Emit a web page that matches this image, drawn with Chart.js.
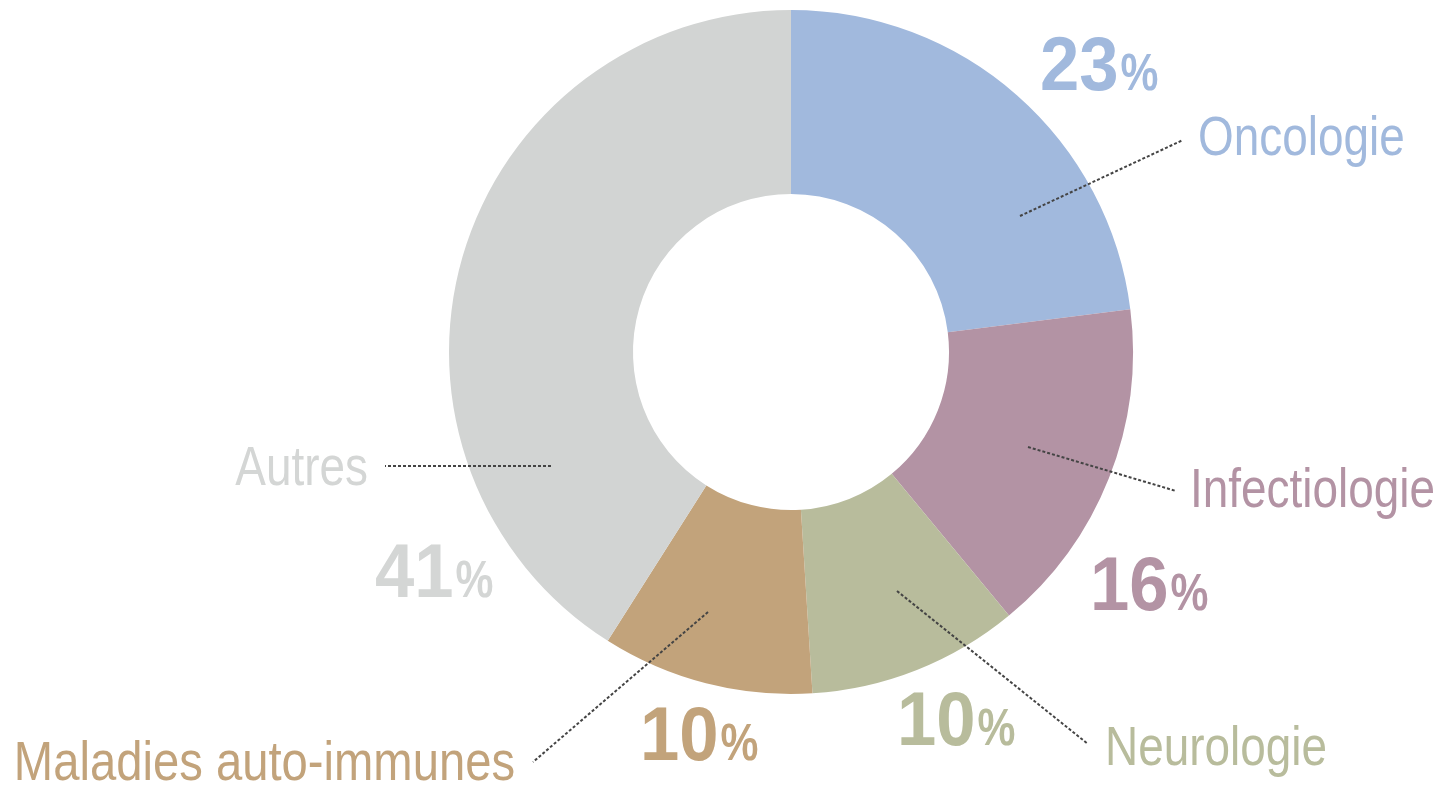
<!DOCTYPE html>
<html><head><meta charset="utf-8">
<script src="https://cdn.jsdelivr.net/npm/chart.js@4/dist/chart.umd.min.js"></script>
<style>html,body{margin:0;padding:0;background:#fff;}canvas{display:block;}</style>
</head><body>
<canvas id="c" width="1445" height="785"></canvas>
<script>
const categories = ["Oncologie", "Infectiologie", "Neurologie", "Maladies auto-immunes", "Autres"];
const values = [23, 16, 10, 10, 41];
const percentLabels = ["23", "16", "10", "10", "41"];
const colors = ["#A1B9DD", "#B393A4", "#B8BC9C", "#C2A37B", "#D2D4D3"];
const textColors = ["#A1B9DD", "#B393A4", "#B8BC9C", "#C2A37B", "#D4D6D5"];

// layout (offsets relative to doughnut centre), style only
const layout = [
  {line:[229,-136,392,-212], name:[407,155-352,'left'], pct:[249,90-352]},
  {line:[237,95,385,139],   name:[399,507-352,'left'], pct:[299,610-352]},
  {line:[106,239,297,392],  name:[314,765-352,'left'], pct:[106,745-352]},
  {line:[-83,260,-258,410], name:[-276,780-352,'right'], pct:[-151,760-352]},
  {line:[-240,114,-406,114],name:[-423,485-352,'right'], pct:[-416,597-352]}
];
const FONT = '"Liberation Sans", Arial, sans-serif';
const NAME_SX = 0.82, PCT_SX = 0.93;

function drawScaled(ctx, text, x, y, sx, align) {
  ctx.save();
  ctx.translate(x, y);
  ctx.scale(sx, 1);
  ctx.textAlign = align;
  ctx.fillText(text, 0, 0);
  ctx.restore();
}

const labelPlugin = {
  id: 'labels',
  afterDraw(chart) {
    const ctx = chart.ctx;
    const arc = chart.getDatasetMeta(0).data[0];
    const cx = arc.x, cy = arc.y;
    ctx.save();
    ctx.textBaseline = 'alphabetic';
    layout.forEach((l, i) => {
      // dotted leader line
      ctx.beginPath();
      ctx.setLineDash([3, 2]);
      ctx.lineWidth = 2;
      ctx.strokeStyle = '#444444';
      ctx.moveTo(cx + l.line[0], cy + l.line[1]);
      ctx.lineTo(cx + l.line[2], cy + l.line[3]);
      ctx.stroke();
      ctx.setLineDash([]);
      // name
      ctx.fillStyle = textColors[i];
      ctx.font = '56px ' + FONT;
      const sx = i === 3 ? 0.843 : NAME_SX;
      drawScaled(ctx, categories[i], cx + l.name[0], cy + l.name[1], sx, l.name[2]);
      // percent
      ctx.font = 'bold 76px ' + FONT;
      const num = percentLabels[i];
      const w = ctx.measureText(num).width * PCT_SX;
      drawScaled(ctx, num, cx + l.pct[0], cy + l.pct[1], PCT_SX, 'left');
      ctx.font = 'bold 52px ' + FONT;
      drawScaled(ctx, '%', cx + l.pct[0] + w + 2, cy + l.pct[1], 0.82, 'left');
    });
    ctx.restore();
  }
};

new Chart(document.getElementById('c'), {
  type: 'doughnut',
  data: {
    labels: categories,
    datasets: [{ data: values, backgroundColor: colors, borderWidth: 0, hoverOffset: 0 }]
  },
  options: {
    responsive: false,
    animation: false,
    cutout: '46.2%',
    layout: { padding: { left: 449, right: 312, top: 10, bottom: 91 } },
    plugins: { legend: { display: false }, tooltip: { enabled: false } }
  },
  plugins: [labelPlugin]
});
</script>
</body></html>
